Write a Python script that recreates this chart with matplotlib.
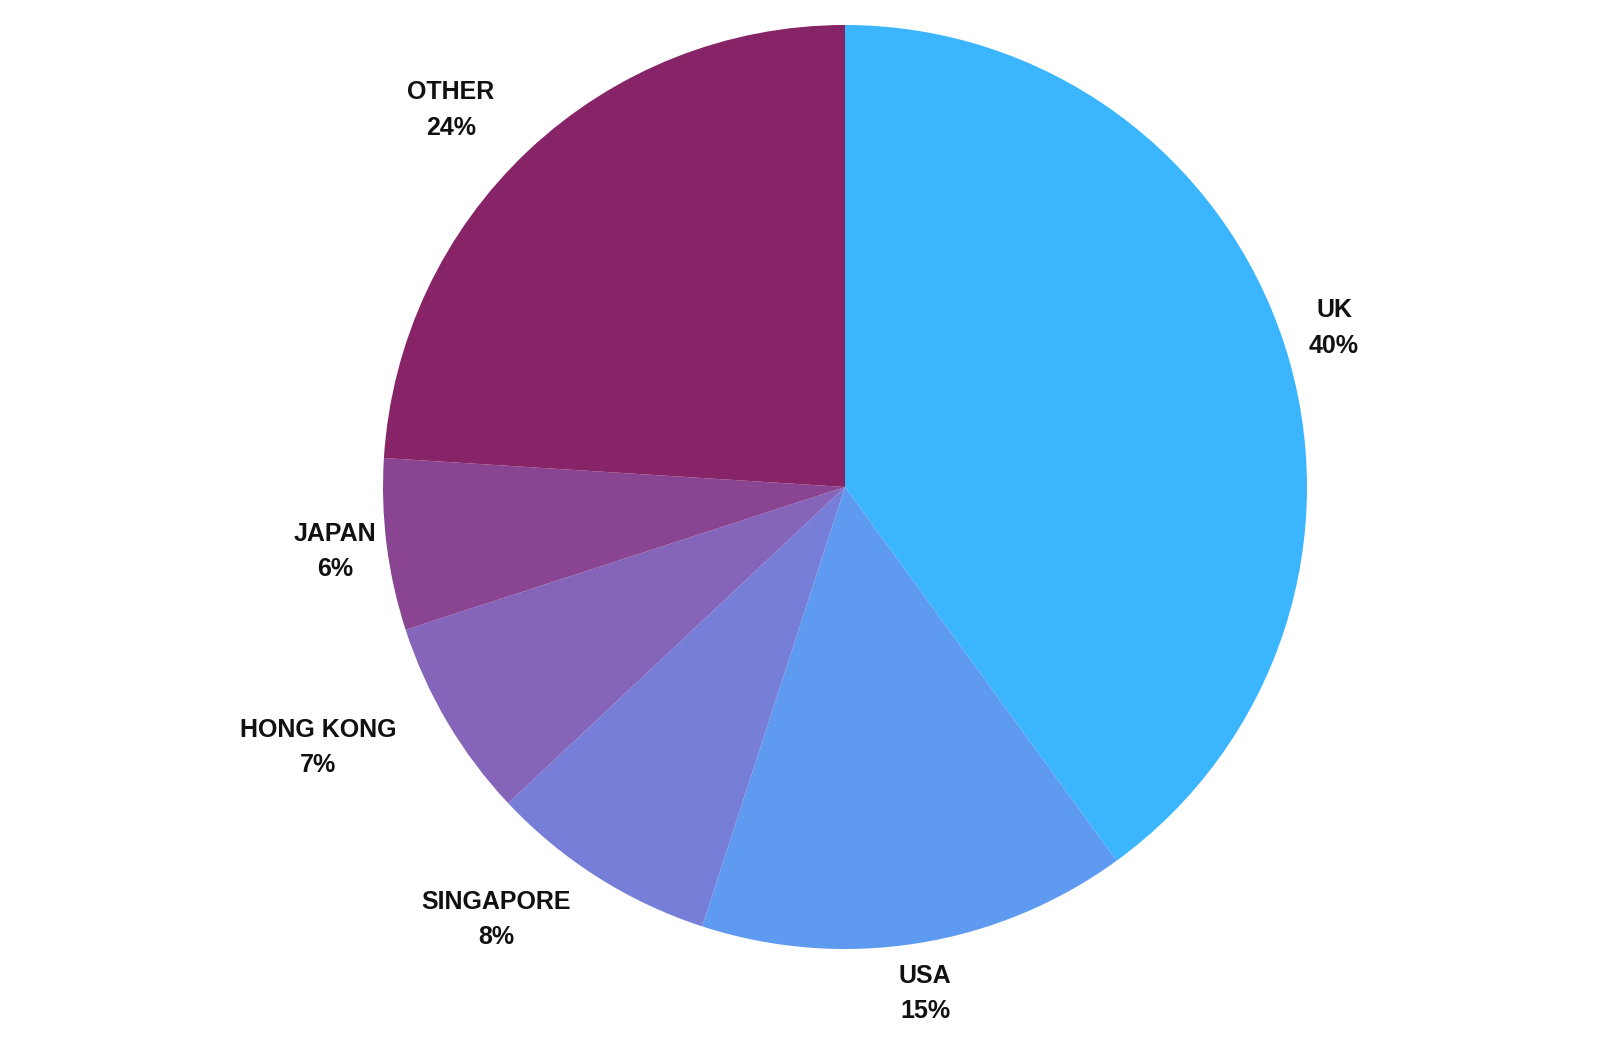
import numpy as np
import matplotlib.pyplot as plt

plt.rcParams['font.family'] = ['Liberation Sans', 'DejaVu Sans']

countries = ["UK", "USA", "SINGAPORE", "HONG KONG", "JAPAN", "OTHER"]
shares = [40, 15, 8, 7, 6, 24]
colors = ["#3BB6FE", "#5E9AF0", "#767ED8", "#8565BA", "#8A4592", "#872468"]

# label placement tweaks (radius, angle shift in degrees)
label_r = [1.113, 1.11, 1.203, 1.273, 1.113, 1.18]
label_shift = [0, 0, -6.5, -4.3, 0, 3.1]

fig = plt.figure(figsize=(16, 10.5), dpi=100)
ax = fig.add_axes([383 / 1600, 101 / 1050, 924 / 1600, 924 / 1050])

wedges, _ = ax.pie(shares, colors=colors, startangle=90, counterclock=False,
                   wedgeprops=dict(linewidth=0))
ax.set_xlim(-1, 1)
ax.set_ylim(-1, 1)
ax.set_aspect('equal')

for w, name, val, r, sh in zip(wedges, countries, shares, label_r, label_shift):
    ang = np.deg2rad((w.theta1 + w.theta2) / 2 + sh)
    ax.text(r * np.cos(ang), r * np.sin(ang), f"{name}\n{val}%",
            ha='center', va='center', fontsize=18, fontweight='bold',
            color='#111111', linespacing=1.62, clip_on=False)

plt.savefig("out.png", dpi=100, facecolor='white')
plt.close()
